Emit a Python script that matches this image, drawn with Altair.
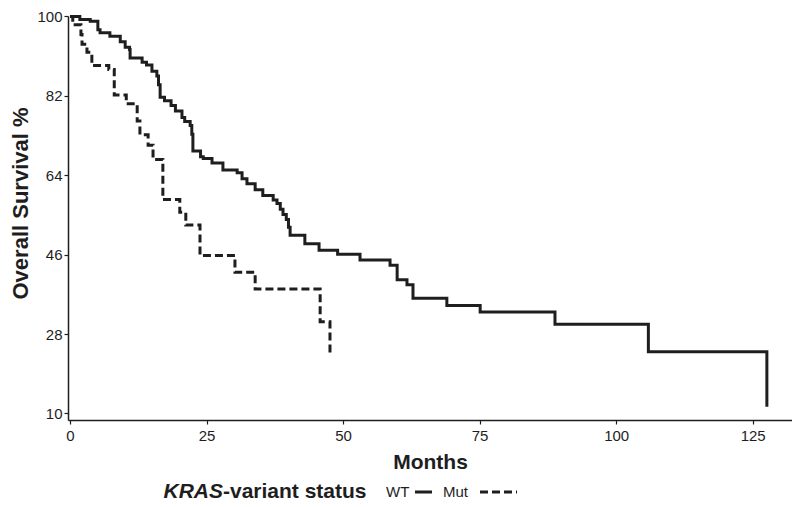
import altair as alt
import pandas as pd

# WT (wild-type) Kaplan-Meier steps: month, overall survival %
wt_months = [0, 1.8, 3.7, 5.1, 5.5, 7.3, 9.2, 10.1, 10.9, 11.0, 13.2, 14.0, 15.0, 15.9,
             16.2, 16.5, 17.3, 18.5, 19.3, 20.5, 21.0, 22.0, 22.3, 22.5, 23.9, 24.4,
             26.0, 28.0, 30.6, 31.5, 32.4, 33.9, 35.3, 37.2, 37.9, 38.5, 39.0, 39.6,
             40.0, 40.3, 43.0, 45.6, 49.0, 53.1, 58.6, 59.9, 61.7, 62.8, 69.0, 75.1,
             88.8, 105.9, 127.6]
wt_surv = [100, 99.3, 98.9, 97.0, 96.3, 95.5, 94.3, 93.0, 92.5, 90.6, 89.6, 89.0, 87.6, 86.5,
           84.5, 81.7, 80.9, 79.8, 78.6, 77.1, 76.2, 75.3, 73.3, 69.5, 68.2, 67.8,
           66.8, 65.2, 64.6, 63.2, 62.1, 60.7, 59.4, 58.4, 57.6, 56.3, 55.1, 54.0,
           52.2, 50.4, 48.5, 47.0, 46.1, 44.8, 43.6, 40.3, 39.2, 36.1, 34.5, 33.0,
           30.2, 24.0, 11.5]

# Mutant Kaplan-Meier steps
mut_months = [0, 0.5, 2.0, 2.2, 3.1, 4.0, 7.1, 8.1, 10.3, 12.3, 12.8, 14.3, 15.2, 17.0,
              20.1, 21.2, 23.8, 30.2, 33.9, 45.8, 47.6]
mut_surv = [100, 98.1, 95.9, 93.7, 91.9, 88.9, 88.0, 82.2, 80.2, 76.3, 73.2, 70.8, 67.6, 58.5,
            55.6, 52.7, 45.8, 42.0, 38.2, 30.8, 23.5]

x_ticks = [0, 25, 50, 75, 100, 125]
y_ticks = [10, 28, 46, 64, 82, 100]

df = pd.concat([
    pd.DataFrame({"Months": wt_months, "Survival": wt_surv, "Status": "WT"}),
    pd.DataFrame({"Months": mut_months, "Survival": mut_surv, "Status": "Mut"}),
])

FONT = "Liberation Sans"
INK = "#1e1e1e"

x = alt.X("Months:Q", scale=alt.Scale(domain=[-0.37, 132.2], nice=False, zero=False),
          axis=alt.Axis(values=x_ticks, title="Months", labelFontSize=15, titleFontSize=21,
                        titlePadding=8, labelPadding=4, format="d"))
y = alt.Y("Survival:Q", scale=alt.Scale(domain=[8.52, 100.11], nice=False, zero=False),
          axis=alt.Axis(values=y_ticks, title="Overall Survival %", labelFontSize=15,
                        titleFontSize=22, titlePadding=4, labelPadding=2, titleY=187))

lines = alt.Chart(df).mark_line(interpolate="step-after", strokeWidth=3, color=INK,
                                strokeCap="butt", strokeJoin="miter").encode(
    x=x, y=y,
    strokeDash=alt.StrokeDash("Status:N", scale=alt.Scale(domain=["WT", "Mut"],
                                                         range=[[1, 0], [8, 4]]), legend=None),
    detail="Status:N",
)

one = alt.Data(values=[{"a": 1}])
LY = 476


def txt(text, xpos, align="left", weight="normal", style="normal", size=15):
    return alt.Chart(one).mark_text(align=align, baseline="middle", font=FONT, fontSize=size,
                                    fontWeight=weight, fontStyle=style, color=INK).encode(
        x=alt.value(xpos), y=alt.value(LY), text=alt.value(text))


def key(x1, x2, dash):
    return alt.Chart(one).mark_rule(strokeWidth=3, color=INK, strokeDash=dash,
                                    strokeCap="butt").encode(
        x=alt.value(x1), x2=alt.value(x2), y=alt.value(LY))


legend = (txt("KRAS", 155, align="right", weight="bold", style="italic", size=21)
          + txt("-variant status", 155, weight="bold", size=21)
          + txt("WT", 318)
          + key(347, 364, [1, 0])
          + txt("Mut", 375)
          + key(412, 449, [8, 4]))

chart = (lines + legend).properties(
    width=724, height=404,
    padding={"left": 60, "top": 8, "right": 0, "bottom": 87},
    autosize=alt.AutoSizeParams(type="none"),
).configure_view(stroke=None).configure_axis(
    grid=False, domainColor=INK, domainWidth=1.5, tickColor=INK, tickSize=4, tickWidth=1.2,
    labelColor=INK, titleColor=INK, labelFont=FONT, titleFont=FONT, titleFontWeight="bold",
)

chart.save("out.html", embed_options={"renderer": "svg", "actions": False})
